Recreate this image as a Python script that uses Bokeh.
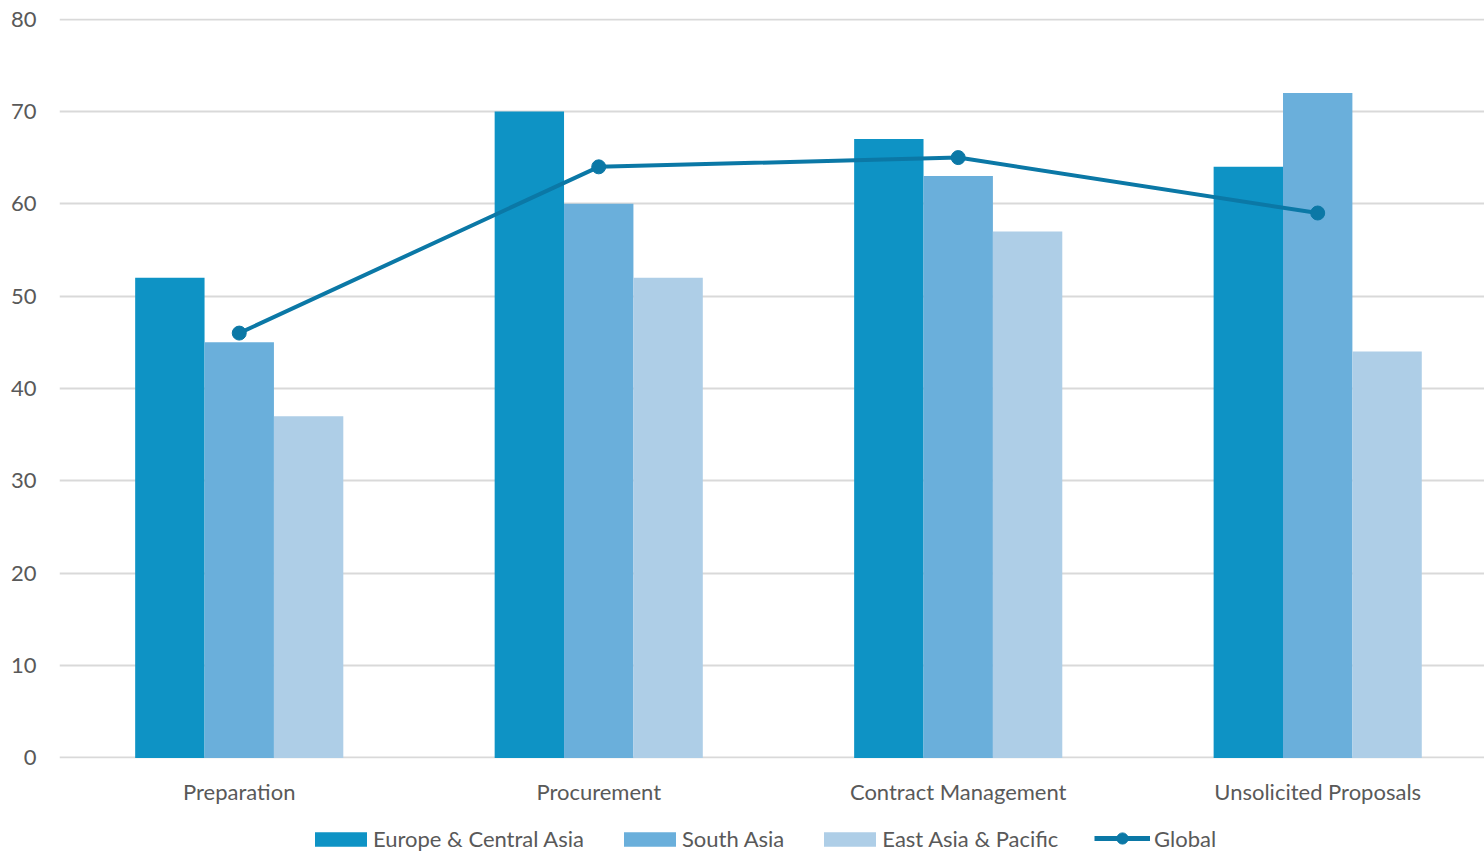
from bokeh.plotting import figure
from bokeh.layouts import column
from bokeh.models import Range1d, FixedTicker, Legend, LegendItem, ColumnDataSource
from bokeh.embed import file_html
from bokeh.resources import INLINE

categories = ["Preparation", "Procurement", "Contract Management", "Unsolicited Proposals"]
europe = [52, 70, 67, 64]
south_asia = [45, 60, 63, 72]
east_asia = [37, 52, 57, 44]
global_vals = [46, 64, 65, 59]
y_ticks = [0, 10, 20, 30, 40, 50, 60, 70, 80]
series_names = ["Europe & Central Asia", "South Asia", "East Asia & Pacific", "Global"]

FONT = "Lato"
TXT = "#595959"
C_EU, C_SA, C_EA, C_GL = "#0E93C5", "#6AAFDB", "#AECEE7", "#0B78A6"
bar_w = 0.193

p = figure(width=1484, height=818, output_backend="svg", toolbar_location=None,
           x_range=Range1d(-0.5, 3.464), y_range=Range1d(-0.06, 80.06),
           min_border_left=59, min_border_right=0, min_border_top=18, min_border_bottom=60)
p.outline_line_color = None
p.background_fill_color = "white"
p.border_fill_color = "white"

idx = list(range(len(categories)))
src = ColumnDataSource(dict(
    x=idx,
    x_e=[i - bar_w for i in idx],
    x_s=idx,
    x_a=[i + bar_w for i in idx],
    europe=europe, south=south_asia, east=east_asia, glob=global_vals))

p.vbar(x="x_e", top="europe", width=bar_w, source=src, fill_color=C_EU, line_color=None)
p.vbar(x="x_s", top="south", width=bar_w, source=src, fill_color=C_SA, line_color=None)
p.vbar(x="x_a", top="east", width=bar_w, source=src, fill_color=C_EA, line_color=None)
p.line(x="x", y="glob", source=src, line_color=C_GL, line_width=4)
p.scatter(x="x", y="glob", source=src, size=14, fill_color=C_GL, line_color=C_GL)

p.xaxis.ticker = FixedTicker(ticks=idx)
p.xaxis.major_label_overrides = {i: c for i, c in enumerate(categories)}
p.yaxis.ticker = FixedTicker(ticks=y_ticks)
for ax in (p.xaxis[0], p.yaxis[0]):
    ax.axis_line_color = None
    ax.major_tick_line_color = None
    ax.minor_tick_line_color = None
    ax.major_tick_out = 0
    ax.major_tick_in = 0
    ax.major_label_text_font = FONT
    ax.major_label_text_font_size = "22px"
    ax.major_label_text_color = TXT
p.yaxis.major_label_standoff = 23
p.xaxis.major_label_standoff = 19
p.xgrid.grid_line_color = None
p.ygrid.grid_line_color = "#D9D9D9"
p.ygrid.grid_line_width = 2

# legend strip: same glyph styles, with no visible data of its own
lg = figure(width=1484, height=34, output_backend="svg", toolbar_location=None,
            x_axis_location=None, y_axis_location=None,
            x_range=Range1d(0, 1), y_range=Range1d(0, 1),
            min_border_left=0, min_border_right=0, min_border_top=0, min_border_bottom=0)
lg.outline_line_color = None
lg.grid.grid_line_color = None
nan_src = ColumnDataSource(dict(x=[float("nan")], y=[float("nan")]))
l_e = lg.vbar(x="x", top="y", width=0.1, source=nan_src, fill_color=C_EU, line_color=None)
l_s = lg.vbar(x="x", top="y", width=0.1, source=nan_src, fill_color=C_SA, line_color=None)
l_a = lg.vbar(x="x", top="y", width=0.1, source=nan_src, fill_color=C_EA, line_color=None)
l_l = lg.line(x="x", y="y", source=nan_src, line_color=C_GL, line_width=5)
l_m = lg.scatter(x="x", y="y", source=nan_src, size=14, fill_color=C_GL, line_color=C_GL)


def style(leg, gw, gh, standoff, spacing):
    leg.label_text_font = FONT
    leg.label_text_font_size = "22px"
    leg.label_text_color = TXT
    leg.glyph_width = gw
    leg.glyph_height = gh
    leg.label_standoff = standoff
    leg.spacing = spacing
    leg.padding = 0
    leg.margin = 0
    leg.border_line_color = None
    leg.background_fill_alpha = 0


legend = Legend(items=[
    LegendItem(label=series_names[0], renderers=[l_e]),
    LegendItem(label=series_names[1], renderers=[l_s]),
    LegendItem(label=series_names[2], renderers=[l_a]),
], orientation="horizontal", location=(249, 0))
style(legend, 65, 18, 0, 33)
lg.add_layout(legend, "center")

legend2 = Legend(items=[
    LegendItem(label=series_names[3], renderers=[l_l, l_m]),
], orientation="horizontal", location=(1035, 0))
style(legend2, 56, 28, 4, 0)
lg.add_layout(legend2, "center")

layout = column(p, lg, spacing=0)
open("out.html", "w").write(file_html(layout, INLINE))
